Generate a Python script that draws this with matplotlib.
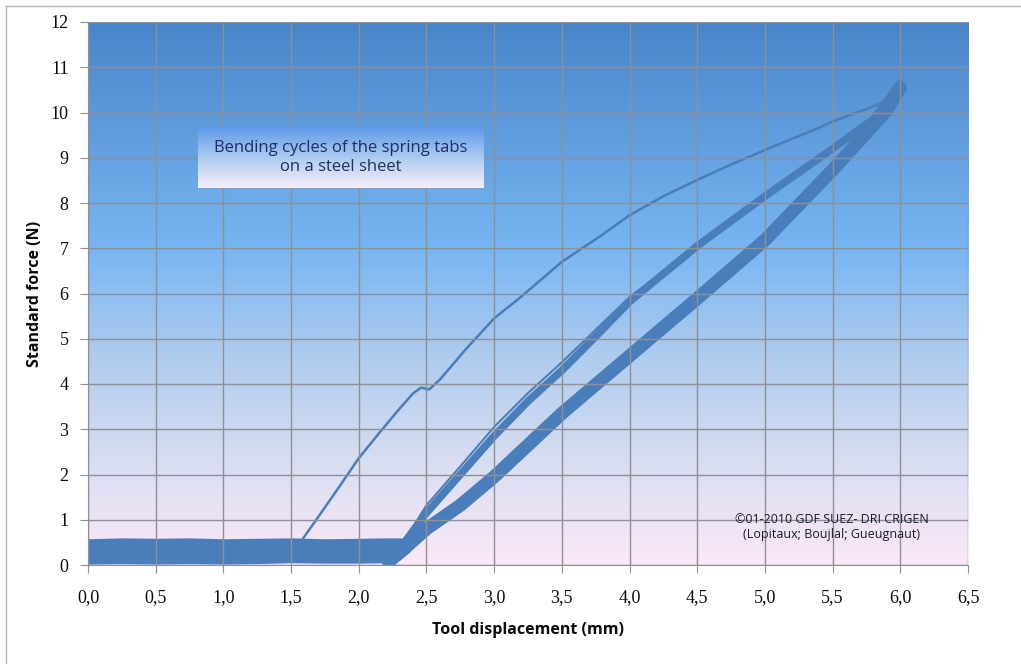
import numpy as np
import matplotlib

matplotlib.use("Agg")
import matplotlib.pyplot as plt
from matplotlib.colors import LinearSegmentedColormap
from matplotlib.lines import Line2D
from matplotlib.ticker import FuncFormatter

# Colours.
_LINE = "#4a7ebb"
_GRID = "#8f8f96"
_INK = "#0b0b0b"
_NAVY = "#1f2f5f"
_SANS = "Open Sans"
_SERIF = "Liberation Serif"

# First loading of the tab (thin line, plastic onset).
first_x = [1.58, 1.70, 1.84, 2.00, 2.16, 2.30, 2.40, 2.46, 2.52, 2.60, 2.80,
           3.00, 3.20, 3.50, 3.78, 4.00, 4.25, 4.50, 4.75, 5.00, 5.20, 5.36,
           5.50, 5.65, 5.76, 5.90, 6.00]
first_y = [0.55, 1.06, 1.66, 2.36, 2.95, 3.45, 3.79, 3.92, 3.88, 4.10, 4.80,
           5.45, 5.93, 6.70, 7.26, 7.73, 8.15, 8.51, 8.85, 9.17, 9.42, 9.61,
           9.80, 9.97, 10.09, 10.25, 10.50]

# Repeated cycles: upper band (loading) and lower band (unloading).
load_x = [2.35, 2.50, 2.75, 3.00, 3.25, 3.50, 3.75, 4.00, 4.50, 5.00, 5.50,
          5.80, 6.00]
load_y = [0.55, 1.15, 2.00, 2.85, 3.62, 4.30, 5.05, 5.82, 7.05, 8.15, 9.20,
          9.85, 10.65]
load2_x = [2.35, 2.50, 2.75, 3.00, 3.25, 3.50, 3.75, 4.00, 4.30]
load2_y = [0.60, 1.32, 2.18, 3.05, 3.80, 4.48, 5.20, 5.92, 6.60]

unload_x = [6.00, 5.90, 5.75, 5.50, 5.00, 4.50, 4.00, 3.50, 3.00, 2.75, 2.50,
            2.35, 2.22]
unload_y = [10.55, 10.05, 9.55, 8.73, 7.18, 5.89, 4.62, 3.35, 1.95, 1.32,
            0.80, 0.40, 0.07]

# Noisy contact band before the tool touches the tabs (envelope).
base_x = [0.0, 0.25, 0.5, 0.75, 1.0, 1.25, 1.5, 1.75, 2.0, 2.2, 2.3, 2.38]
base_top = [0.58, 0.60, 0.59, 0.60, 0.58, 0.59, 0.60, 0.58, 0.59, 0.60,
            0.60, 0.58]
base_bot = [0.02, 0.03, 0.02, 0.03, 0.02, 0.03, 0.05, 0.04, 0.04, 0.05,
            0.10, 0.30]

x_ticks = np.arange(0, 6.51, 0.5)
y_ticks = np.arange(0, 13, 1)

bg_cmap = LinearSegmentedColormap.from_list(
    "bg", [(0.0, "#fbe8f8"), (0.17, "#dcdff2"), (0.38, "#b0ccee"),
           (0.58, "#78b6f2"), (1.0, "#4a85c9")])
box_cmap = LinearSegmentedColormap.from_list(
    "box", [(0.0, "#f8eef8"), (0.45, "#b4cff2"), (1.0, "#5e9aea")])

fig = plt.figure(figsize=(10.21, 6.64), dpi=100)
fig.patch.set_facecolor("white")
ax = fig.add_axes([88 / 1021, 1 - 565 / 664, 880 / 1021, 543 / 664])

grad = np.linspace(0, 1, 256).reshape(-1, 1)
ax.imshow(grad, extent=[0, 6.5, 0, 12], origin="lower", aspect="auto",
          cmap=bg_cmap, zorder=0)

ax.fill_between(base_x, base_bot, base_top, color=_LINE, lw=0, zorder=2)
ax.plot(unload_x, unload_y, color=_LINE, lw=9.5, solid_capstyle="round",
        solid_joinstyle="round", zorder=2)
ax.plot(load_x, load_y, color=_LINE, lw=5.5, solid_capstyle="round",
        solid_joinstyle="round", zorder=2)
ax.plot(load2_x, load2_y, color=_LINE, lw=1.5, zorder=2)
ax.plot(first_x, first_y, color=_LINE, lw=1.8, zorder=2)

ax.set_xlim(0, 6.5)
ax.set_ylim(0, 12)
ax.set_xticks(x_ticks)
ax.set_yticks(y_ticks)
ax.xaxis.set_major_formatter(FuncFormatter(lambda v, _: f"{v:.1f}".replace(".", ",")))
ax.grid(True, color=_GRID, lw=1.0)
ax.set_axisbelow(False)
for line in ax.get_xgridlines() + ax.get_ygridlines():
    line.set_zorder(1)
for side in ("top", "right"):
    ax.spines[side].set_visible(False)
for side in ("left", "bottom"):
    ax.spines[side].set_color(_GRID)
ax.tick_params(direction="out", length=6, color=_GRID, labelcolor=_INK,
               labelsize=13, labelfontfamily=_SERIF)
ax.tick_params(axis="x", pad=11)
ax.tick_params(axis="y", pad=8)

ax.set_xlabel("Tool displacement (mm)", fontfamily=_SANS, fontweight="bold",
              fontsize=11.5, color=_INK, labelpad=12)
ax.set_ylabel("Standard force (N)", fontfamily=_SANS, fontweight="bold",
              fontsize=11.5, color=_INK, labelpad=5)

ax.text(0.845, 0.07, "©01-2010 GDF SUEZ- DRI CRIGEN\n(Lopitaux; Boujlal; Gueugnaut)",
        transform=ax.transAxes, ha="center", va="center", fontsize=9,
        fontfamily=_SANS, color="#1a1a2a", linespacing=1.25, zorder=3)

# Title box with its own vertical gradient.
box = fig.add_axes([198 / 1021, 1 - 188 / 664, 286 / 1021, 61 / 664])
box.imshow(grad, extent=[0, 1, 0, 1], origin="lower", aspect="auto",
           cmap=box_cmap)
box.set_axis_off()
box.text(0.5, 0.5, "Bending cycles of the spring tabs\non a steel sheet",
         ha="center", va="center", fontsize=12, fontfamily=_SANS,
         color=_NAVY, linespacing=1.3)

# Outer chart frame (left and top edges are the ones inside the picture).
fig.add_artist(Line2D([6 / 1021, 6 / 1021], [0, 1 - 6 / 664],
                      transform=fig.transFigure, color="#b8b8b8", lw=1))
fig.add_artist(Line2D([6 / 1021, 1], [1 - 6 / 664, 1 - 6 / 664],
                      transform=fig.transFigure, color="#b8b8b8", lw=1))

fig.savefig("out.png", dpi=100)
